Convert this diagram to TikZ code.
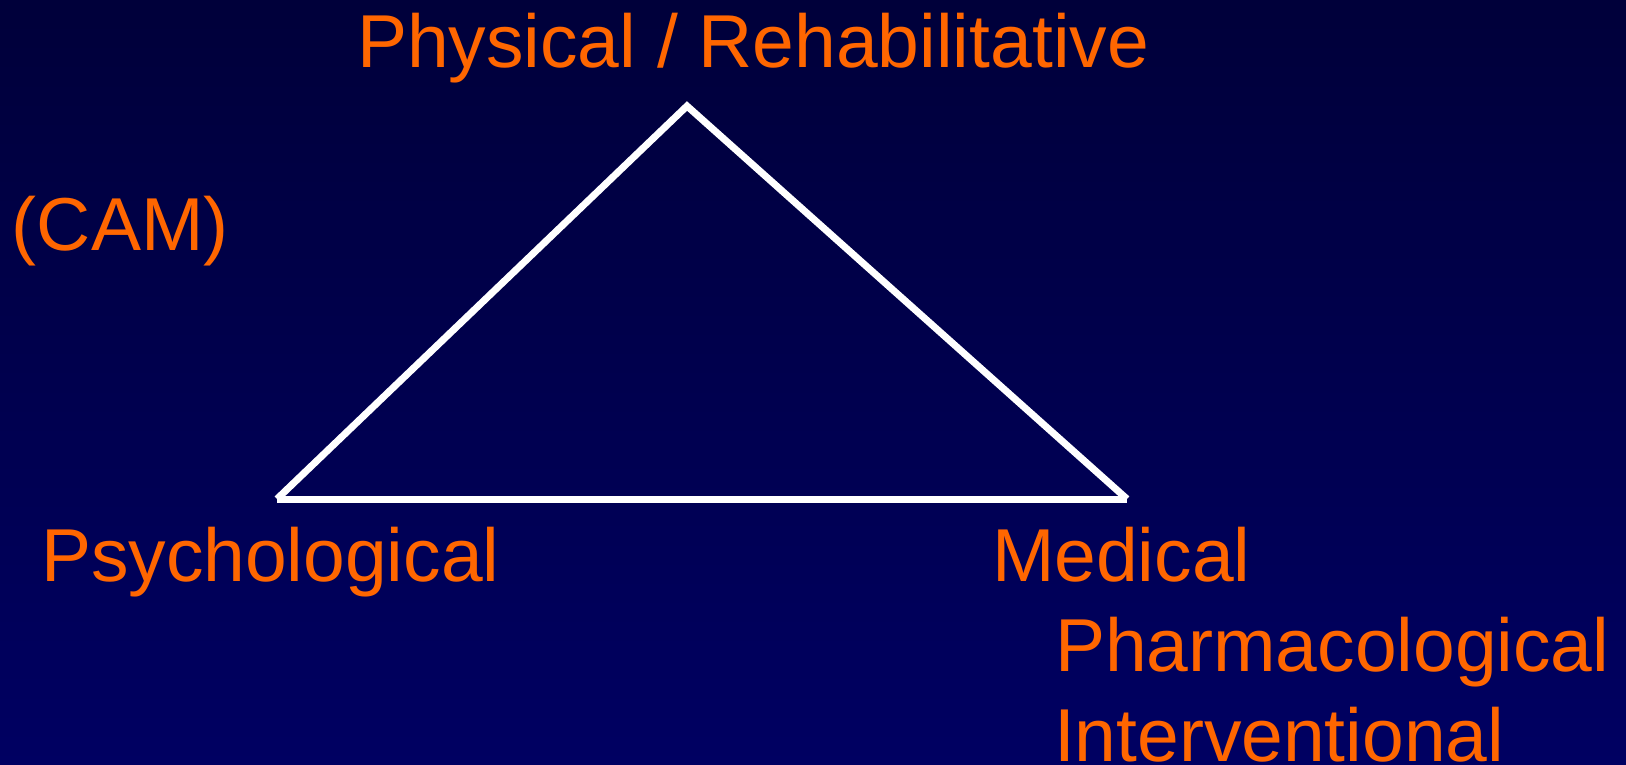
\documentclass[tikz,border=0pt]{standalone}
\usepackage{fontspec}
\setmainfont{Liberation Sans}
\definecolor{bgtop}{RGB}{0,0,58}
\definecolor{bgbot}{RGB}{0,0,98}
\definecolor{lblorange}{RGB}{255,102,0}
\begin{document}
\begin{tikzpicture}[x=1pt,y=-1pt,
  lbl/.style={text=lblorange,font=\fontsize{75}{90}\selectfont,inner sep=0pt,outer sep=0pt,anchor=base west},
  edge/.style={draw=white,line width=7pt}]
\shade[top color=bgtop,bottom color=bgbot] (0,0) rectangle (1626,765);
\useasboundingbox (0,0) rectangle (1626,765);
\coordinate (L) at (277,499);
\coordinate (T) at (687,106);
\coordinate (R) at (1127,499);
\draw[edge,line join=miter] (L) -- (T) -- (R);
\draw[edge] (L) -- (R);
\node[lbl] (phys) at (357,68) {Physical / Rehabilitative};
\node[lbl] (cam) at (12,250) {(CAM)};
\node[lbl] (psy) at (41,581) {Psychological};
\node[lbl] (med) at (992,581) {Medical};
\node[lbl] (pha) at (1055,671) {Pharmacological};
\node[lbl] (int) at (1054,761) {Interventional};
\end{tikzpicture}
\end{document}
